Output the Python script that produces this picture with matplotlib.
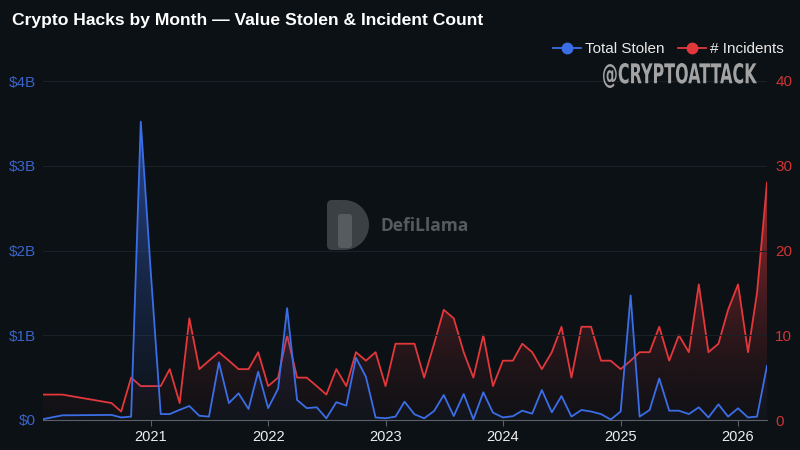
import numpy as np
import pandas as pd
import matplotlib
matplotlib.use('Agg')
import matplotlib.pyplot as plt
import matplotlib.dates as mdates
from matplotlib.colors import to_rgb
from matplotlib.lines import Line2D
from matplotlib.patches import Wedge, FancyBboxPatch, PathPatch
from matplotlib.textpath import TextPath
from matplotlib.font_manager import FontProperties
from matplotlib.transforms import Affine2D, IdentityTransform
from matplotlib.ticker import FuncFormatter, MultipleLocator

# monthly data (value stolen in $B, number of incidents)
months = ['2020-02', '2020-04', '2020-09', '2020-10', '2020-11', '2020-12',
          '2021-01', '2021-02', '2021-03', '2021-04', '2021-05', '2021-06',
          '2021-07', '2021-08', '2021-09', '2021-10', '2021-11', '2021-12',
          '2022-01', '2022-02', '2022-03', '2022-04', '2022-05', '2022-06',
          '2022-07', '2022-08', '2022-09', '2022-10', '2022-11', '2022-12',
          '2023-01', '2023-02', '2023-03', '2023-04', '2023-05', '2023-06',
          '2023-07', '2023-08', '2023-09', '2023-10', '2023-11', '2023-12',
          '2024-01', '2024-02', '2024-03', '2024-04', '2024-05', '2024-06',
          '2024-07', '2024-08', '2024-09', '2024-10', '2024-11', '2024-12',
          '2025-01', '2025-02', '2025-03', '2025-04', '2025-05', '2025-06',
          '2025-07', '2025-08', '2025-09', '2025-10', '2025-11', '2025-12',
          '2026-01', '2026-02', '2026-03', '2026-04']

stolen_b = [0.01, 0.055, 0.06, 0.03, 0.04, 3.52,
            1.75, 0.07, 0.07, 0.12, 0.165, 0.05,
            0.04, 0.68, 0.20, 0.315, 0.13, 0.57,
            0.14, 0.37, 1.32, 0.236, 0.14, 0.15,
            0.02, 0.21, 0.17, 0.735, 0.51, 0.03,
            0.02, 0.04, 0.216, 0.067, 0.02, 0.106,
            0.295, 0.047, 0.307, 0.008, 0.327, 0.087,
            0.03, 0.045, 0.11, 0.075, 0.354, 0.09,
            0.283, 0.04, 0.118, 0.10, 0.07, 0.005,
            0.10, 1.47, 0.04, 0.118, 0.49, 0.11,
            0.11, 0.07, 0.15, 0.03, 0.185, 0.04,
            0.138, 0.03, 0.04, 0.64]

incidents = [3, 3, 2, 1, 5, 4,
             4, 4, 6, 2, 12, 6,
             7, 8, 7, 6, 6, 8,
             4, 5, 10, 5, 5, 4,
             3, 6, 4, 8, 7, 8,
             4, 9, 9, 9, 5, 9,
             13, 12, 8, 5, 10, 4,
             7, 7, 9, 8, 6, 8,
             11, 5, 11, 11, 7, 7,
             6, 7, 8, 8, 11, 7,
             10, 8, 16, 8, 9, 13,
             16, 8, 15, 28]

year_ticks = ['2021', '2022', '2023', '2024', '2025', '2026']

BG = '#0c1115'
BLUE = '#3b6ee6'
RED = '#e2383b'
GRID = '#1a2127'

plt.rcParams['font.family'] = ['Liberation Sans', 'DejaVu Sans']

x = mdates.date2num(pd.to_datetime(months))
x0 = mdates.date2num(pd.Timestamp('2020-02-01'))
x1 = mdates.date2num(pd.Timestamp('2026-04-01'))


def gradient_fill(axis, xs, ys, color, top, alpha_top, z, power=1.0):
    """面积渐变填充"""
    poly = axis.fill_between(xs, ys, 0, color='none', lw=0)
    rgba = np.zeros((256, 1, 4))
    rgba[..., :3] = to_rgb(color)
    rgba[..., 3] = (0.03 + (alpha_top - 0.03) * np.linspace(0, 1, 256) ** power)[:, None]
    im = axis.imshow(rgba, aspect='auto', origin='lower',
                     extent=[x0, x1, 0, top], zorder=z, interpolation='bilinear')
    im.set_clip_path(poly.get_paths()[0], axis.transData)


fig = plt.figure(figsize=(8, 4.5), dpi=100, facecolor=BG)
ax = fig.add_axes([43 / 800, 30 / 450, 724 / 800, 339 / 450])
ax2 = ax.twinx()
ax.set_facecolor('none')
ax2.set_facecolor('none')

# incidents (right axis)
gradient_fill(ax2, x, incidents, RED, 30, 0.8, 1, power=1.6)
ax2.plot(x, incidents, color=RED, lw=1.3, zorder=3)

# value stolen (left axis)
gradient_fill(ax, x, stolen_b, BLUE, 3.6, 0.6, 1, power=1.3)
ax.plot(x, stolen_b, color=BLUE, lw=1.3, zorder=3)
ax.set_zorder(ax2.get_zorder() + 1)

ax.set_xlim(x0, x1)
ax.set_ylim(0, 4)
ax2.set_ylim(0, 40)
ax2.set_xlim(x0, x1)

ax.yaxis.set_major_locator(MultipleLocator(1))
ax.yaxis.set_major_formatter(FuncFormatter(lambda v, p: '$0' if v == 0 else f'${v:.0f}B'))
ax2.yaxis.set_major_locator(MultipleLocator(10))

ax.grid(axis='y', color=GRID, lw=0.8)
ax.set_axisbelow(True)

tick_pos = [mdates.date2num(pd.Timestamp(f'{y}-01-01')) for y in year_ticks]
ax.set_xticks(tick_pos)
ax.set_xticklabels(year_ticks)

for a in (ax, ax2):
    for s in ('top', 'left', 'right', 'bottom'):
        a.spines[s].set_visible(False)
ax.spines['bottom'].set_visible(True)
ax.spines['bottom'].set_color('#59606a')
ax.spines['bottom'].set_linewidth(0.8)
ax2.axvline(x1, color='#2a3138', lw=0.8, ls=(0, (1, 2)), zorder=0)

ax.tick_params(axis='x', colors='#59606a', length=4, width=0.8, pad=3,
               labelcolor='#eeeeee', labelsize=10.5)
ax.tick_params(axis='y', length=0, pad=5, labelcolor='#3a63c9', labelsize=11)
ax2.tick_params(axis='y', length=0, pad=6, labelcolor='#cf3434', labelsize=11)

# title
fig.text(12 / 800, 1 - 20 / 450, 'Crypto Hacks by Month — Value Stolen & Incident Count',
         color='white', fontsize=12.6, fontweight='bold', va='center', ha='left')

# legend
handles = [Line2D([], [], color=BLUE, lw=1.3, marker='o', markersize=7.5),
           Line2D([], [], color=RED, lw=1.3, marker='o', markersize=7.5)]
fig.legend(handles, ['Total Stolen', '# Incidents'], loc='center right',
           bbox_to_anchor=(798 / 800, 1 - 49 / 450), ncol=2, frameon=False,
           fontsize=11, labelcolor='#e8e8e8', handlelength=1.8, handletextpad=0.3,
           columnspacing=0.9)

# watermark: condensed bold text, squeezed horizontally
tp = TextPath((0, 0), '@CRYPTOATTACK', size=30,
              prop=FontProperties(family='DejaVu Sans', weight='bold'))
bb = tp.get_extents()
sx = 154 / bb.width
sy = 25 / bb.height
wm = Affine2D().translate(-bb.x0, -bb.y0).scale(sx, sy).translate(603, 450 - 88)
fig.patches.append(PathPatch(tp, transform=wm + IdentityTransform(), color='#a3a3a3',
                             lw=0, figure=fig))

logo = fig.add_axes([326 / 800, 1 - 251 / 450, 44 / 800, 52 / 450])
logo.set_xlim(0, 44)
logo.set_ylim(0, 52)
logo.axis('off')
logo.add_patch(FancyBboxPatch((1, 1), 20, 50, boxstyle='round,pad=0,rounding_size=5',
                              color='#3b4044', lw=0))
logo.add_patch(Wedge((18, 26), 25, -90, 90, color='#3b4044', lw=0))
logo.add_patch(FancyBboxPatch((12, 3), 14, 34, boxstyle='round,pad=0,rounding_size=3',
                              color='#565b5f', lw=0))
fig.text(380 / 800, 1 - 226 / 450, 'DefiLlama', color='#545a5e', fontsize=12.5,
         fontweight='bold', ha='left', va='center', family=['Open Sans', 'DejaVu Sans'])

fig.savefig('out.png', dpi=100, facecolor=BG)
